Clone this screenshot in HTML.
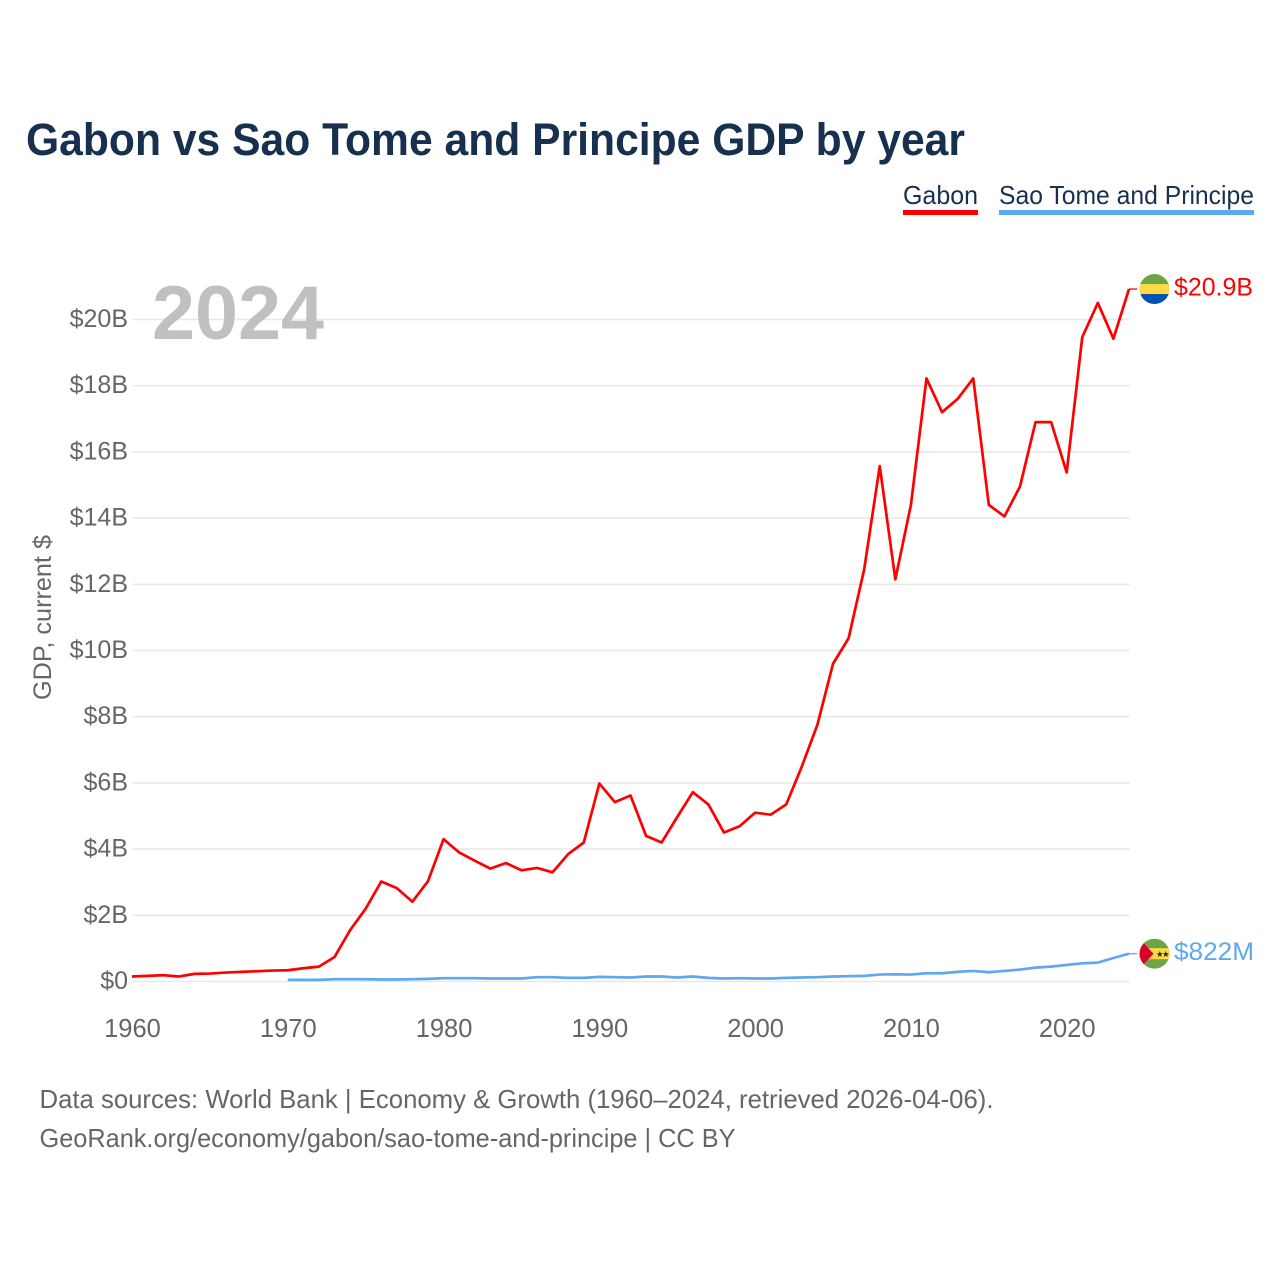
<!DOCTYPE html>
<html lang="en">
<head>
<meta charset="utf-8">
<title>Gabon vs Sao Tome and Principe GDP by year</title>
<style>
html,body{margin:0;padding:0;background:#fff;}
svg{display:block;font-family:"Liberation Sans",sans-serif;}
</style>
</head>
<body>
<svg id="chart" xmlns="http://www.w3.org/2000/svg" width="1280" height="1280" viewBox="0 0 1280 1280">
  <rect width="1280" height="1280" fill="#ffffff"/>
  <text x="26" y="155" font-size="45" font-weight="700" fill="#18304f" textLength="939" lengthAdjust="spacingAndGlyphs">Gabon vs Sao Tome and Principe GDP by year</text>
  <g>
    <g>
      <text x="903" y="204" font-size="26" fill="#18304f" textLength="75" lengthAdjust="spacingAndGlyphs">Gabon</text>
      <rect x="903" y="210" width="75" height="5" fill="#ff0000"/>
    </g>
    <g>
      <text x="999" y="204" font-size="26" fill="#18304f" textLength="255" lengthAdjust="spacingAndGlyphs">Sao Tome and Principe</text>
      <rect x="999" y="210" width="255" height="5" fill="#5fa8ee"/>
    </g>
  </g>
  <g id="grid"></g>
  <g id="yticks"></g>
  <g id="xticks"></g>
  <text x="152" y="339" font-size="76" font-weight="700" fill="#c0c0c0" textLength="172" lengthAdjust="spacingAndGlyphs">2024</text>
  <text transform="translate(51,700) rotate(-90)" font-size="25" fill="#666666" textLength="165" lengthAdjust="spacingAndGlyphs">GDP, current $</text>
  <g id="series"></g>
  <g id="end-gabon">
    <clipPath id="clip-g"><circle cx="0" cy="0" r="15"/></clipPath>
    <g clip-path="url(#clip-g)">
      <rect x="-15" y="-15" width="30" height="10.5" fill="#6da544"/>
      <rect x="-15" y="-5" width="30" height="10.5" fill="#ffda44"/>
      <rect x="-15" y="5" width="30" height="10.5" fill="#0052b4"/>
    </g>
    <text x="19.5" y="6.5" font-size="25" fill="#ff0000" textLength="79" lengthAdjust="spacingAndGlyphs">$20.9B</text>
  </g>
  <g id="end-stp">
    <clipPath id="clip-s"><circle cx="0" cy="0" r="15"/></clipPath>
    <g clip-path="url(#clip-s)">
      <rect x="-15" y="-15" width="30" height="30" fill="#6da544"/>
      <rect x="-15" y="-5.5" width="30" height="11" fill="#ffda44"/>
      <polygon points="-15,-15 -1,0 -15,15" fill="#d80027"/>
      <text x="1.5" y="3.5" font-size="8.5" fill="#222222" font-family="'DejaVu Sans',sans-serif">★</text>
      <text x="7.5" y="3.5" font-size="8.5" fill="#222222" font-family="'DejaVu Sans',sans-serif">★</text>
    </g>
    <text x="19.5" y="6.5" font-size="25" fill="#5fa8ee" textLength="80" lengthAdjust="spacingAndGlyphs">$822M</text>
  </g>
  <text x="39.5" y="1108" font-size="26" fill="#666666" textLength="954" lengthAdjust="spacingAndGlyphs">Data sources: World Bank | Economy &amp; Growth (1960–2024, retrieved 2026-04-06).</text>
  <text x="39.5" y="1147" font-size="26" fill="#666666" textLength="696" lengthAdjust="spacingAndGlyphs">GeoRank.org/economy/gabon/sao-tome-and-principe | CC BY</text>
</svg>
<script>
const gabonYears = [1960,1961,1962,1963,1964,1965,1966,1967,1968,1969,1970,1971,1972,1973,1974,1975,1976,1977,1978,1979,1980,1981,1982,1983,1984,1985,1986,1987,1988,1989,1990,1991,1992,1993,1994,1995,1996,1997,1998,1999,2000,2001,2002,2003,2004,2005,2006,2007,2008,2009,2010,2011,2012,2013,2014,2015,2016,2017,2018,2019,2020,2021,2022,2023,2024];
const gabonValues = [0.15,0.17,0.19,0.15,0.23,0.24,0.27,0.29,0.31,0.33,0.34,0.40,0.45,0.74,1.55,2.2,3.02,2.82,2.41,3.03,4.3,3.9,3.65,3.41,3.58,3.36,3.43,3.3,3.85,4.2,5.98,5.42,5.62,4.4,4.2,4.97,5.72,5.35,4.5,4.69,5.1,5.04,5.35,6.5,7.76,9.6,10.37,12.45,15.57,12.15,14.4,18.22,17.2,17.6,18.22,14.4,14.05,14.95,16.9,16.9,15.38,19.47,20.5,19.42,20.92];
const stpYears = [1970,1971,1972,1973,1974,1975,1976,1977,1978,1979,1980,1981,1982,1983,1984,1985,1986,1987,1988,1989,1990,1991,1992,1993,1994,1995,1996,1997,1998,1999,2000,2001,2002,2003,2004,2005,2006,2007,2008,2009,2010,2011,2012,2013,2014,2015,2016,2017,2018,2019,2020,2021,2022,2023,2024];
const stpValues = [0.05,0.05,0.05,0.07,0.07,0.07,0.06,0.06,0.07,0.08,0.10,0.10,0.10,0.09,0.09,0.09,0.13,0.13,0.11,0.11,0.14,0.13,0.12,0.15,0.15,0.12,0.15,0.11,0.09,0.10,0.09,0.09,0.11,0.12,0.13,0.15,0.16,0.17,0.21,0.22,0.21,0.25,0.25,0.29,0.32,0.28,0.32,0.36,0.42,0.45,0.50,0.55,0.57,0.71,0.84];
const yTickValues = [0,2,4,6,8,10,12,14,16,18,20];
const yTickLabels = ["$0","$2B","$4B","$6B","$8B","$10B","$12B","$14B","$16B","$18B","$20B"];
const xTickYears = [1960,1970,1980,1990,2000,2010,2020];

const NS = 'http://www.w3.org/2000/svg';
const xScale = function (year) { return 132 + (year - 1960) * (997 / 64); };
const yScale = function (v) { return 981.5 - v * 33.1; };

function make(tag, parent) {
  const el = document.createElementNS(NS, tag);
  parent.appendChild(el);
  return el;
}

const grid = document.getElementById('grid');
const yticks = document.getElementById('yticks');
yTickValues.forEach(function (v, i) {
  const line = make('line', grid);
  
  
  line.setAttribute('x1', 132.5);
  line.setAttribute('x2', 1129.5);
  line.setAttribute('y1', yScale(v));
  line.setAttribute('y2', yScale(v));
  line.setAttribute('stroke', '#e8e8e8');
  line.setAttribute('stroke-width', 1.6);
  const t = make('text', yticks);
  
  
  t.setAttribute('x', 128);
  t.setAttribute('y', yScale(v) + 7.5);
  t.setAttribute('text-anchor', 'end');
  t.setAttribute('font-size', 25);
  t.setAttribute('fill', '#666666');
  t.textContent = yTickLabels[i];
});

const xticks = document.getElementById('xticks');
xTickYears.forEach(function (yr) {
  const t = make('text', xticks);
  
  
  t.setAttribute('x', xScale(yr) + 0.5);
  t.setAttribute('y', 1037);
  t.setAttribute('text-anchor', 'middle');
  t.setAttribute('font-size', 25.5);
  t.setAttribute('fill', '#666666');
  t.textContent = String(yr);
});

const seriesGroup = document.getElementById('series');
function drawSeries(years, values, color, name, endId) {
  const pts = years.map(function (yr, i) { return xScale(yr).toFixed(2) + ',' + yScale(values[i]).toFixed(2); });
  const lastX = xScale(years[years.length - 1]);
  const lastY = yScale(values[values.length - 1]);
  const connector = make('line', seriesGroup);
  
  
  connector.setAttribute('x1', lastX);
  connector.setAttribute('x2', lastX + 8);
  connector.setAttribute('y1', lastY);
  connector.setAttribute('y2', lastY);
  connector.setAttribute('stroke', color);
  connector.setAttribute('stroke-width', 1.3);
  const line = make('polyline', seriesGroup);
  
  
  line.setAttribute('points', pts.join(' '));
  line.setAttribute('fill', 'none');
  line.setAttribute('stroke', color);
  line.setAttribute('stroke-width', 2.7);
  line.setAttribute('stroke-linejoin', 'round');
  document.getElementById(endId).setAttribute('transform', 'translate(' + (lastX + 25.5) + ',' + lastY + ')');
}
drawSeries(stpYears, stpValues, '#5fa8ee', 'line-sao-tome', 'end-stp');
drawSeries(gabonYears, gabonValues, '#ff0000', 'line-gabon', 'end-gabon');
</script>
</body>
</html>
